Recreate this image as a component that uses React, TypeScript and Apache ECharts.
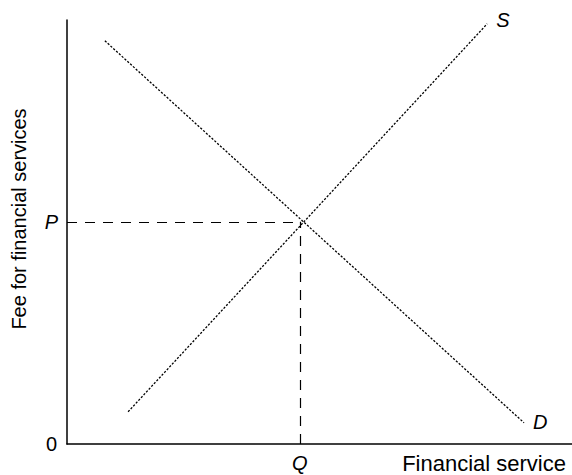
import React, { useEffect, useRef } from "react";
import * as echarts from "echarts";

// ---- data (abstract units, 0..100 on both axes) ----
const xDomain = [0, 100];
const yDomain = [0, 100];
const supplyPoints = [
  [12.1, 7.6],
  [83.2, 99.1],
];
const demandPoints = [
  [7.5, 95.1],
  [90.5, 5.0],
];
const equilibriumQ = 46.1;
const equilibriumP = 52.4;
const supplyLabel = "S";
const demandLabel = "D";
const priceLabel = "P";
const quantityLabel = "Q";
const originLabel = "0";
const xAxisTitle = "Financial service";
const yAxisTitle = "Fee for financial services";

const FONT = '"Liberation Sans", Arial, Helvetica, sans-serif';
const BLACK = "#000";

export default function App() {
  const ref = useRef<HTMLDivElement>(null);

  useEffect(() => {
    if (!ref.current) return;
    const chart = echarts.init(ref.current, undefined, { renderer: "svg" });

    const axisLine = { show: true, onZero: false, lineStyle: { color: BLACK, width: 1.5 } };
    const italicLabel = {
      fontSize: 20,
      fontStyle: "italic",
      color: BLACK,
      fontFamily: FONT,
    };

    const option: any = {
      animation: false,
      backgroundColor: "#fff",
      grid: { left: 67, right: 0, top: 20, bottom: 31, containLabel: false },
      xAxis: {
        type: "value",
        min: xDomain[0],
        max: xDomain[1],
        axisLine,
        axisTick: { show: false },
        axisLabel: { show: false },
        splitLine: { show: false },
        name: xAxisTitle,
        nameLocation: "end",
        nameGap: -6,
        nameTextStyle: {
          align: "right",
          verticalAlign: "top",
          padding: [8, 0, 0, 0],
          fontSize: 22,
          color: BLACK,
          fontFamily: FONT,
        },
      },
      yAxis: {
        type: "value",
        min: yDomain[0],
        max: yDomain[1],
        interval: 100,
        axisLine,
        axisTick: { show: false },
        axisLabel: {
          show: true,
          formatter: (v: number) => (v === 0 ? originLabel : ""),
          fontSize: 20,
          color: BLACK,
          margin: 10,
          fontFamily: FONT,
          padding: [9, 0, 0, 0],
        },
        splitLine: { show: false },
        name: yAxisTitle,
        nameLocation: "middle",
        nameGap: 38,
        nameTextStyle: {
          fontSize: 20,
          color: BLACK,
          fontFamily: FONT,
          padding: [0, 0, 0, 26],
        },
      },
      series: [
        {
          type: "line",
          data: supplyPoints,
          symbol: "none",
          silent: true,
          lineStyle: { color: BLACK, width: 1.3, type: [2.2, 1.6] },
          endLabel: {
            show: true,
            formatter: supplyLabel,
            ...italicLabel,
            distance: 9,
            offset: [0, -4],
          },
          markLine: {
            silent: true,
            symbol: ["none", "none"],
            animation: false,
            lineStyle: { color: BLACK, width: 1.2, type: [10, 8] },
            label: {
              show: true,
              position: "start",
              formatter: "{b}",
              ...italicLabel,
              distance: 9,
            },
            emphasis: { disabled: true },
            data: [
              [
                { coord: [xDomain[0], equilibriumP], name: priceLabel },
                { coord: [equilibriumQ, equilibriumP] },
              ],
              [
                { coord: [equilibriumQ, yDomain[0]], name: quantityLabel },
                { coord: [equilibriumQ, equilibriumP] },
              ],
            ],
          },
        },
        {
          type: "line",
          data: demandPoints,
          symbol: "none",
          silent: true,
          lineStyle: { color: BLACK, width: 1.3, type: [2.2, 1.6] },
          endLabel: {
            show: true,
            formatter: demandLabel,
            ...italicLabel,
            distance: 9,
            offset: [0, -1],
          },
        },
      ],
    };

    chart.setOption(option);
    return () => chart.dispose();
  }, []);

  return (
    <div
      ref={ref}
      style={{ position: "absolute", left: 0, top: 0, width: 572, height: 475, background: "#fff" }}
    />
  );
}
